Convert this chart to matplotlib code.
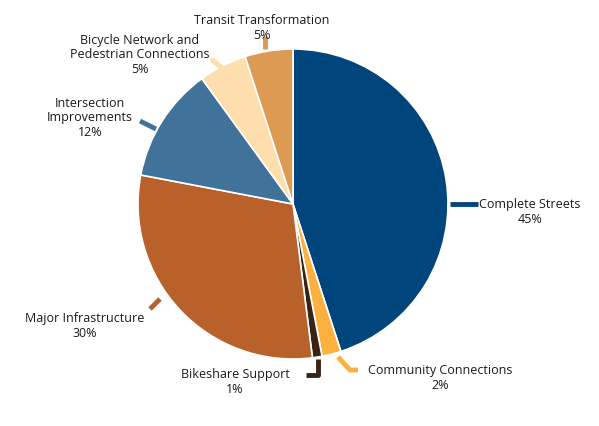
import matplotlib
matplotlib.use("Agg")
import matplotlib.pyplot as plt

labels = ["Complete Streets", "Community Connections", "Bikeshare Support",
          "Major Infrastructure", "Intersection\nImprovements",
          "Bicycle Network and\nPedestrian Connections", "Transit Transformation"]
shares = [45, 2, 1, 30, 12, 5, 5]
colors = ["#00457c", "#fbb040", "#3b2314", "#b8612a", "#41729a", "#fddeac", "#dc9a52"]

# label centres and leader polylines, in pixel coordinates (y downwards)
label_pos = [(530, 212), (440, 378), (235, 382), (85, 326), (90, 118), (140, 55), (262, 28)]
leaders = [
    [(450, 205), (478, 205)],
    [(338, 358), (350, 371), (358, 371)],
    [(318, 360), (318, 376), (306, 376)],
    [(160, 300), (150, 310)],
    [(140, 122), (156, 130)],
    [(211, 60), (222, 69)],
    [(265, 37), (265, 50)],
]

W, H = 599, 427
fig = plt.figure(figsize=(W / 100, H / 100), dpi=100)
ax = fig.add_axes([0, 0, 1, 1])

ax.pie(shares, colors=colors, startangle=90, counterclock=False,
       center=(293, H - 205), radius=155,
       wedgeprops=dict(edgecolor="white", linewidth=1.2))

for name, val, col, (lx, ly), pts in zip(labels, shares, colors, label_pos, leaders):
    xs = [p[0] for p in pts]
    ys = [H - p[1] for p in pts]
    ax.plot(xs, ys, color=col, linewidth=3.5, solid_capstyle="butt")
    ax.text(lx, H - ly, f"{name}\n{val}%", ha="center", va="center",
            fontsize=9, family="Open Sans", color="#1a1a1a", linespacing=1.15)

# pie() resets the view, so fix the pixel frame afterwards
ax.set_xlim(0, W)
ax.set_ylim(0, H)
ax.set_aspect("equal")
ax.axis("off")

fig.savefig("out.png", dpi=100, facecolor="white")
